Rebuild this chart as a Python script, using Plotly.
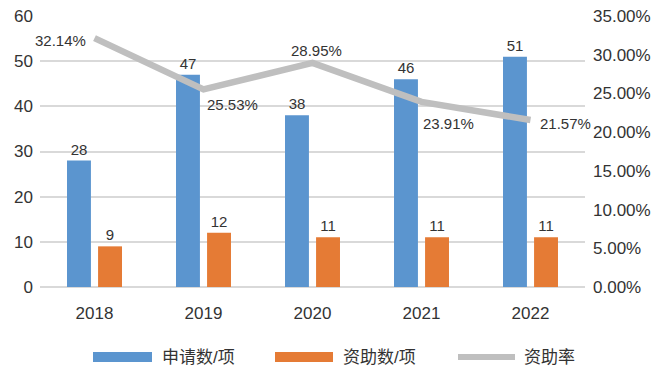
import plotly.graph_objects as go

years = ["2018", "2019", "2020", "2021", "2022"]
applications = [28, 47, 38, 46, 51]
funded = [9, 12, 11, 11, 11]
rate = [0.3214, 0.2553, 0.2895, 0.2391, 0.2157]
rate_labels = ["32.14%", "25.53%", "28.95%", "23.91%", "21.57%"]
series_names = ["申请数/项", "资助数/项", "资助率"]

# label placement for the rate labels (anchor, x offset px, y offset px)
rate_label_anchor = ["right", "left", "center", "left", "left"]
rate_label_dx = [-7, 1, 4, -1, 7]
rate_label_dy = [-2, -15, 12, -22, -4]

FONT = "Liberation Sans, Arial, Noto Sans CJK SC, sans-serif"
TXT = "#333333"
BLUE = "#5B95CF"
ORANGE = "#E57B35"
GRAY = "#BFBFBF"

fig = go.Figure()
fig.add_trace(go.Bar(
    x=years, y=applications, name=series_names[0],
    marker=dict(color=BLUE, line=dict(width=0)),
    text=[str(v) for v in applications], textposition="outside",
    textfont=dict(size=15, color=TXT, family=FONT), cliponaxis=False,
))
fig.add_trace(go.Bar(
    x=years, y=funded, name=series_names[1],
    marker=dict(color=ORANGE, line=dict(width=0)),
    text=[str(v) for v in funded], textposition="outside",
    textfont=dict(size=15, color=TXT, family=FONT), cliponaxis=False,
))
fig.add_trace(go.Scatter(
    x=years, y=rate, name=series_names[2], yaxis="y2",
    mode="lines", line=dict(color=GRAY, width=6.5),
    cliponaxis=False,
))

annotations = []
for i, (r, lab, anc, dx, dy) in enumerate(zip(rate, rate_labels, rate_label_anchor,
                                              rate_label_dx, rate_label_dy)):
    # category axis: annotation x is the category's serial index
    annotations.append(dict(x=i, y=r, xref="x", yref="y2", text=lab, showarrow=False,
                            xanchor=anc, yanchor="middle", xshift=dx, yshift=dy,
                            font=dict(size=15, color=TXT, family=FONT)))

# custom legend (plot area: x 40..585 px, y 16..287 px)
def px_x(p):
    return (p - 40) / 545.0

def px_y(p):
    return (287 - p) / 271.0

legend_items = [
    (series_names[0], BLUE, 93, 152, 160, "rect"),
    (series_names[1], ORANGE, 275, 333, 341, "rect"),
    (series_names[2], GRAY, 455, 518, 522, "line"),
]
shapes = []
for name, col, x0, x1, tx, kind in legend_items:
    if kind == "rect":
        shapes.append(dict(type="rect", xref="paper", yref="paper",
                           x0=px_x(x0), x1=px_x(x1), y0=px_y(362), y1=px_y(352),
                           fillcolor=col, line=dict(width=0)))
    else:
        shapes.append(dict(type="line", xref="paper", yref="paper",
                           x0=px_x(x0 + 3), x1=px_x(x1 - 3), y0=px_y(357), y1=px_y(357),
                           line=dict(color=col, width=6)))
    annotations.append(dict(text=name, xref="paper", yref="paper",
                            x=px_x(tx), y=px_y(357), xanchor="left", yanchor="middle",
                            showarrow=False, font=dict(size=17, color=TXT, family=FONT)))

fig.update_layout(
    width=660, height=373,
    margin=dict(l=40, r=75, t=16, b=86, autoexpand=False),
    paper_bgcolor="white", plot_bgcolor="white",
    font=dict(family=FONT, size=17, color=TXT),
    barmode="group", bargap=0.43, bargroupgap=0.23,
    showlegend=False,
    shapes=shapes, annotations=annotations,
    xaxis=dict(type="category", categoryorder="array", categoryarray=years,
               range=[-0.5, len(years) - 0.5],
               showgrid=False, showline=False, ticks="", tickfont=dict(size=17),
               automargin=False, ticklabelstandoff=14),
    yaxis=dict(range=[0, 60], dtick=10, showgrid=True, gridcolor="#D9D9D9", gridwidth=1.5,
               zeroline=True, zerolinecolor="#D9D9D9", zerolinewidth=1.5,
               showline=False, ticks="", tickfont=dict(size=17), ticklabelstandoff=6,
               automargin=False),
    yaxis2=dict(range=[0, 0.35], dtick=0.05, tickformat=".2%", overlaying="y", side="right",
                showgrid=False, zeroline=False, showline=False, ticks="",
                tickfont=dict(size=17), ticklabelstandoff=7, automargin=False),
)

fig.write_html("out.html", config={"displayModeBar": False},
               post_script="document.body.style.margin='0px';document.body.style.overflow='hidden';")
